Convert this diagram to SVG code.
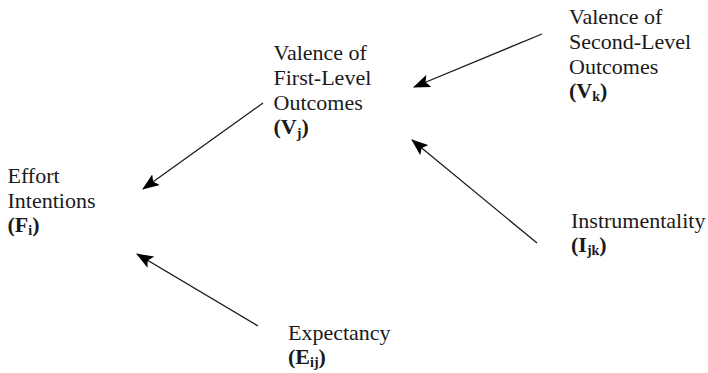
<svg xmlns="http://www.w3.org/2000/svg" width="708" height="373" viewBox="0 0 708 373">
<style>
text{font-family:'Liberation Serif','Times New Roman',serif;font-size:22px;fill:#1a1a1a}
.b{font-weight:bold}
.s{font-size:14px;font-weight:bold}
.c{stroke:#1a1a1a;stroke-width:1.3;fill:none}
</style>
<defs>
<marker id="ah" markerUnits="userSpaceOnUse" markerWidth="17" markerHeight="13" viewBox="0 0 17 13" refX="16" refY="6.5" orient="auto">
<path d="M0,0 L17,6.5 L0,13 L3.5,6.5 Z" fill="#000"/>
</marker>
</defs>
<g id="connectors">
<line class="c" x1="263" y1="103" x2="143" y2="189" marker-end="url(#ah)"/>
<line class="c" x1="542" y1="34" x2="414" y2="87" marker-end="url(#ah)"/>
<line class="c" x1="537" y1="243" x2="412" y2="140" marker-end="url(#ah)"/>
<line class="c" x1="258" y1="326" x2="137" y2="254" marker-end="url(#ah)"/>
</g>
<g id="effort">
<text x="7.5" y="183">Effort</text>
<text x="7.5" y="207.5">Intentions</text>
<text x="7.5" y="232" class="b">(F<tspan class="s" dy="3">i</tspan><tspan dy="-3">)</tspan></text>
</g>
<g id="valence1">
<text x="273.5" y="60">Valence of</text>
<text x="273.5" y="85">First-Level</text>
<text x="273.5" y="110">Outcomes</text>
<text x="273.5" y="134" class="b">(V<tspan class="s" dy="4">j</tspan><tspan dy="-4">)</tspan></text>
</g>
<g id="valence2">
<text x="569" y="24">Valence of</text>
<text x="569" y="49">Second-Level</text>
<text x="569" y="74">Outcomes</text>
<text x="569" y="98" class="b">(V<tspan class="s" dy="3">k</tspan><tspan dy="-3">)</tspan></text>
</g>
<g id="instrumentality">
<text x="571" y="228">Instrumentality</text>
<text x="571" y="252" class="b">(I<tspan class="s" dy="3">jk</tspan><tspan dy="-3">)</tspan></text>
</g>
<g id="expectancy">
<text x="288" y="340">Expectancy</text>
<text x="288" y="364" class="b">(E<tspan class="s" dy="3">ij</tspan><tspan dy="-3">)</tspan></text>
</g>
</svg>
